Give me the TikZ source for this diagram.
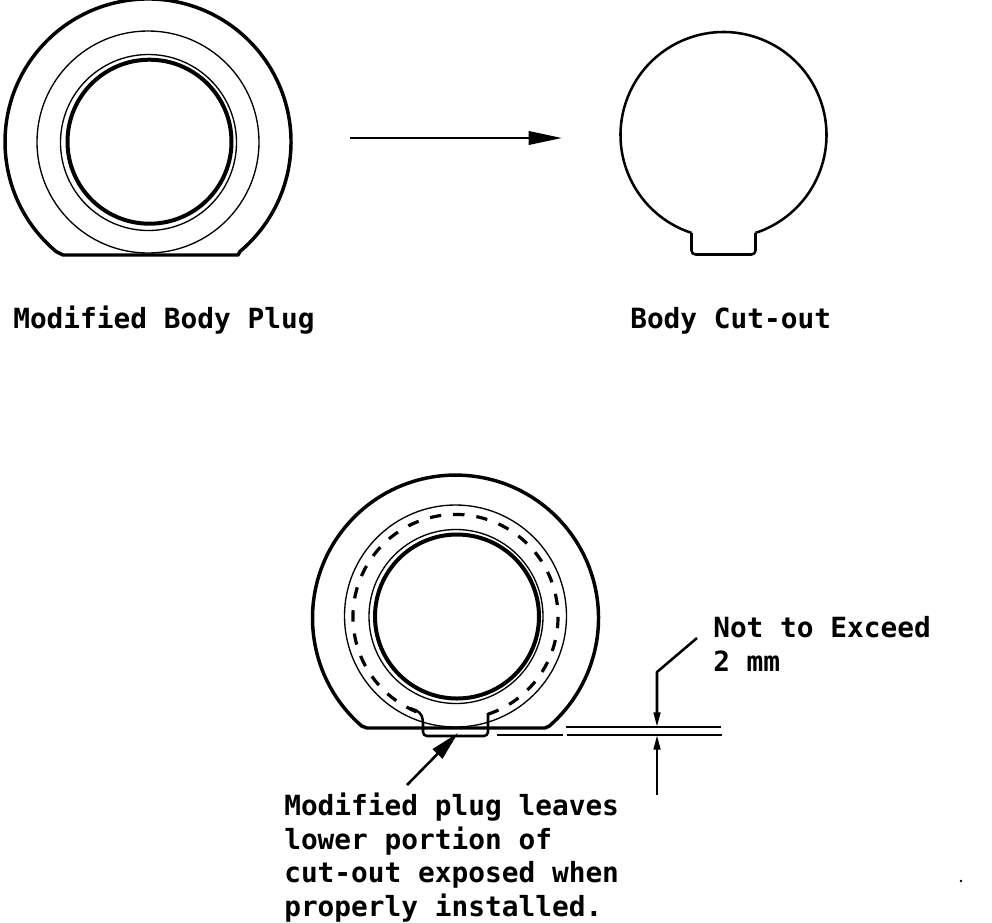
\documentclass[tikz,border=0pt]{standalone}
\usepackage{fontspec}
\setmainfont{DejaVu Sans Mono}[BoldFont={DejaVu Sans Mono Bold}]
\usetikzlibrary{arrows.meta}
\tikzset{
  heavy/.style={line width=2.6pt,line join=round},
  medium/.style={line width=1.9pt,line join=round},
  ruled/.style={line width=1.3pt},
  thin line/.style={line width=1pt},
  inner ring/.style={line width=3pt},
  label text/.style={font=\bfseries\fontsize{20.85}{25.3}\selectfont,anchor=west,inner sep=0pt,align=left},
  big head/.style={-{Triangle[length=25pt,width=10pt]}},
  small head/.style={-{Triangle[length=11pt,width=5pt]}},
}
\begin{document}
\begin{tikzpicture}[x=0.75pt,y=-0.75pt]
\useasboundingbox (0,0) rectangle (992,922);
\begin{scope}
\clip (0,0) rectangle (992,922);
% modified body plug
\draw[heavy] (238,255) -- (63,255) -- (56.1,251.5) arc[start angle=230,end angle=-50,radius=107.25pt] -- cycle;
\draw[thin line] (148,142) circle[radius=83.25pt];
\draw[thin line] (148.5,142.5) circle[radius=66pt];
\draw[inner ring] (149.5,141.7) circle[radius=61.5pt];
\end{scope}
% arrow
\coordinate (arrowstart) at (350,138);
\coordinate (arrowend) at (562,138);
\draw[medium,big head] (arrowstart) -- (arrowend);
% body cut-out
\draw[medium] (691.5,232.9) arc[start angle=-108.1,end angle=-431.9,radius=77.25pt];
\draw[medium,rounded corners=3pt] (691.5,232.9) -- (691.5,254.5) -- (755.5,254.5) -- (755.5,232.9);
% assembled view
\draw[heavy] (545,728) -- (367,728) -- (361.7,726) arc[start angle=229,end angle=-49,radius=107.25pt] -- cycle;
\draw[thin line] (455.5,616) circle[radius=83.25pt];
\draw[line width=2.4pt,dash pattern=on 8.5pt off 9pt] (488,714.2) arc[start angle=-71.5,end angle=251.5,radius=76.9pt];
\draw[thin line] (456,616.5) circle[radius=65.25pt];
\draw[inner ring] (457,616.5) circle[radius=61.5pt];
% exposed notch
\draw[medium,rounded corners=3pt] (410,708) -- (420,712) -- (423,719) -- (423,736) -- (488,736) -- (488,713);
% dimension lines
\draw[medium] (497,735) -- (563,735);
\draw[ruled] (567,735) -- (657,735);
\draw[thin line] (657,735) -- (722,735);
\draw[ruled] (566,727) -- (657,727);
\draw[thin line] (657,727) -- (721,727);
\coordinate (leadera) at (697,638);
\coordinate (leaderb) at (657,672);
\coordinate (dimupper) at (657,727);
\coordinate (dimfoot) at (657,795);
\coordinate (dimlower) at (657,735);
\draw[medium,small head] (leadera) -- (leaderb) -- (dimupper);
\draw[medium,small head] (dimfoot) -- (dimlower);
\coordinate (notefoot) at (407,785);
\coordinate (notetip) at (458,733);
\draw[medium,-{Triangle[length=22pt,width=10pt]}] (notefoot) -- (notetip);
% labels
\node[label text] (plug) at (13,320) {Modified Body Plug};
\node[label text] (cutout) at (630,321) {Body Cut-out};
\node[label text] (limit) at (713,644) {Not to Exceed\\2 mm};
\node[label text] (note) at (284,857.5) {Modified plug leaves\\lower portion of\\cut-out exposed when\\properly installed.};
\fill (961,881) circle[radius=1pt];
\end{tikzpicture}
\end{document}
